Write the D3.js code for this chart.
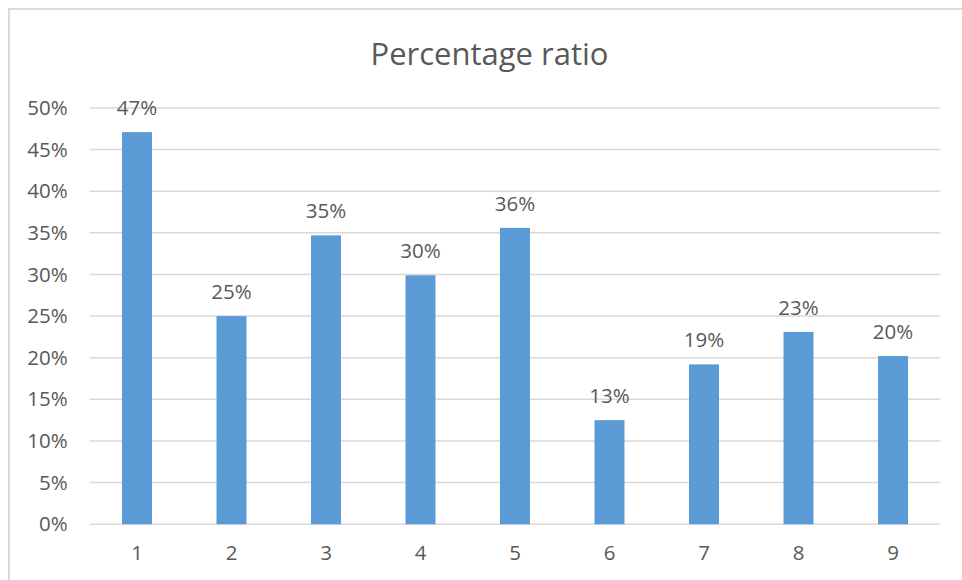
<!DOCTYPE html>
<html>
<head>
<meta charset="utf-8">
<script src="https://cdn.jsdelivr.net/npm/d3@7/dist/d3.min.js"></script>
<style>
  html, body { margin: 0; padding: 0; background: #fff; }
  svg { display: block; }
  text { font-family: "Open Sans", "Noto Sans", sans-serif; fill: #595959; }
</style>
</head>
<body>
<svg id="chart" width="962" height="580"></svg>
<script>
// Chart data
const title = "Percentage ratio";
const categories = ["1", "2", "3", "4", "5", "6", "7", "8", "9"];
const values = [0.471, 0.25, 0.347, 0.299, 0.356, 0.125, 0.192, 0.231, 0.202];
const yTicks = [0, 0.05, 0.10, 0.15, 0.20, 0.25, 0.30, 0.35, 0.40, 0.45, 0.50];

const svg = d3.select("#chart");
const W = 962, H = 580;
const plot = { left: 89.75, right: 940.25, top: 108, bottom: 524.2 };

// Chart-area frame
svg.append("rect")
  .attr("x", 9).attr("y", 9)
  .attr("width", W + 20).attr("height", H + 20)
  .attr("fill", "#fff")
  .attr("stroke", "#d9d9d9").attr("stroke-width", 2);

const x = d3.scaleBand()
  .domain(categories)
  .range([plot.left, plot.right])
  .paddingInner(0.683)
  .paddingOuter(0.3415);

const y = d3.scaleLinear()
  .domain([0, 0.5])
  .range([plot.bottom, plot.top]);

const pct = d3.format(".0%");
const labelSize = 20.5;

// Horizontal gridlines
svg.append("g")
  .selectAll("line")
  .data(yTicks)
  .join("line")
  .attr("x1", plot.left).attr("x2", plot.right)
  .attr("y1", d => y(d)).attr("y2", d => y(d))
  .attr("stroke", "#d9d9d9").attr("stroke-width", 1.5);

// Y axis labels
const yAxis = d3.axisLeft(y).tickValues(yTicks).tickFormat(pct).tickSize(0).tickPadding(22);
const gy = svg.append("g").attr("transform", `translate(${plot.left},0)`).call(yAxis);
gy.select(".domain").remove();
gy.selectAll("text")
  .attr("font-size", labelSize)
  .style("font-family", "'Open Sans', sans-serif")
  .attr("fill", "#595959");

// X axis labels
const xAxis = d3.axisBottom(x).tickSize(0).tickPadding(21);
const gx = svg.append("g").attr("transform", `translate(0,${plot.bottom})`).call(xAxis);
gx.select(".domain").remove();
gx.selectAll("text")
  .attr("font-size", labelSize)
  .style("font-family", "'Open Sans', sans-serif")
  .attr("fill", "#595959");

// Bars
svg.append("g")
  .selectAll("rect")
  .data(values)
  .join("rect")
  .attr("x", (d, i) => x(categories[i]))
  .attr("width", x.bandwidth())
  .attr("y", d => y(d))
  .attr("height", d => y(0) - y(d))
  .attr("fill", "#5b9bd5");

// Value labels above bars
svg.append("g")
  .selectAll("text")
  .data(values)
  .join("text")
  .attr("x", (d, i) => x(categories[i]) + x.bandwidth() / 2)
  .attr("y", d => y(d) - 17)
  .attr("text-anchor", "middle")
  .attr("font-size", labelSize)
  .text(d => pct(d));

// Title
svg.append("text")
  .attr("x", 489.5)
  .attr("y", 65)
  .attr("text-anchor", "middle")
  .attr("font-size", 31)
  .text(title);
</script>
</body>
</html>
